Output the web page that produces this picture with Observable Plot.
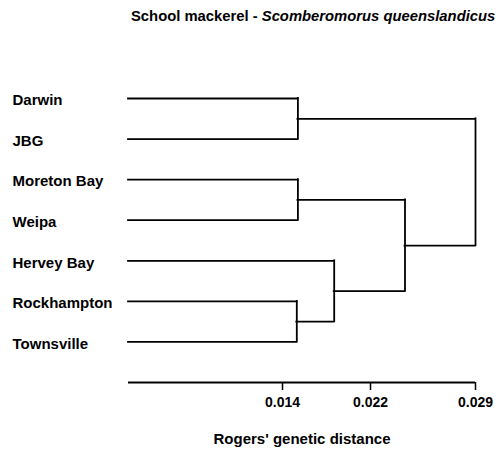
<!DOCTYPE html>
<html>
<head>
<meta charset="utf-8">
<script src="https://cdn.jsdelivr.net/npm/d3@7"></script>
<script src="https://cdn.jsdelivr.net/npm/@observablehq/plot@0.6"></script>
<style>
  html, body { margin: 0; padding: 0; background: #fff; overflow: hidden; }
  #title {
    height: 34px; box-sizing: border-box; padding-top: 9px; padding-left: 131px;
    font: bold 14.8px/15px "Liberation Sans", Arial, Helvetica, sans-serif;
    white-space: nowrap; color: #000;
  }
</style>
</head>
<body>
<div id="title">School mackerel - <i>Scomberomorus queenslandicus</i></div>
<div id="chart"></div>
<script>
// Leaves, top to bottom
const leaves = ["Darwin", "JBG", "Moreton Bay", "Weipa", "Hervey Bay", "Rockhampton", "Townsville"];
// Clusters: each joins two members (leaf names or cluster ids) at a Rogers' distance
const clusterIds    = ["A", "B", "C", "D", "E", "F"];
const clusterLeft   = ["Darwin", "Moreton Bay", "Rockhampton", "Hervey Bay", "B", "A"];
const clusterRight  = ["JBG", "Weipa", "Townsville", "C", "D", "E"];
const clusterHeight = [0.0154, 0.0154, 0.0153, 0.0187, 0.0243, 0.029];
// Axis tick values as printed
const xTicks = [0.014, 0.022, 0.029];
const axisTitle = "Rogers' genetic distance";

// Build node positions (x = distance, y = row index)
const pos = new Map();
leaves.forEach((name, i) => pos.set(name, {x: 0, y: i}));
const horiz = [], vert = [];
clusterIds.forEach((id, k) => {
  const a = pos.get(clusterLeft[k]), b = pos.get(clusterRight[k]);
  const h = clusterHeight[k];
  horiz.push({y: a.y, x1: a.x, x2: h});
  horiz.push({y: b.y, x1: b.x, x2: h});
  vert.push({x: h, y1: a.y, y2: b.y});
  pos.set(id, {x: h, y: (a.y + b.y) / 2});
});
const rows = leaves.length;

const chart = Plot.plot({
  width: 496,
  height: 419,
  marginLeft: 128,
  marginRight: 21,
  marginTop: 64,
  marginBottom: 71,
  style: {fontFamily: "'Liberation Sans', Arial, Helvetica, sans-serif", fontWeight: "bold", fontSize: "14px", color: "#000", background: "#fff"},
  // piecewise-linear axis, as printed in the original figure
  x: {type: "linear", domain: [0, ...xTicks], range: [128, 282, 370, 475]},
  y: {type: "linear", domain: [0, rows], reverse: true, axis: null},
  marks: [
    Plot.ruleY(horiz, {y: "y", x1: "x1", x2: "x2", stroke: "#000", strokeWidth: 1.8, strokeLinecap: "square"}),
    Plot.ruleX(vert, {x: "x", y1: "y1", y2: "y2", stroke: "#000", strokeWidth: 1.8, strokeLinecap: "square"}),
    Plot.ruleY([rows], {x1: 0, x2: d3.max(xTicks), stroke: "#000", strokeWidth: 1.8}),
    Plot.axisX(xTicks, {tickSize: 8, tickPadding: 7, tickFormat: d3.format(".3f"), label: null, strokeWidth: 1.5, fontSize: 14}),
    Plot.text(leaves, {y: (d, i) => i, text: d => d, frameAnchor: "left", textAnchor: "start", dx: -116, dy: 2, fontSize: 15}),
    Plot.text([axisTitle], {text: d => d, frameAnchor: "bottom", dy: 61, fontSize: 15})
  ]
});
document.getElementById("chart").appendChild(chart);
</script>
</body>
</html>
